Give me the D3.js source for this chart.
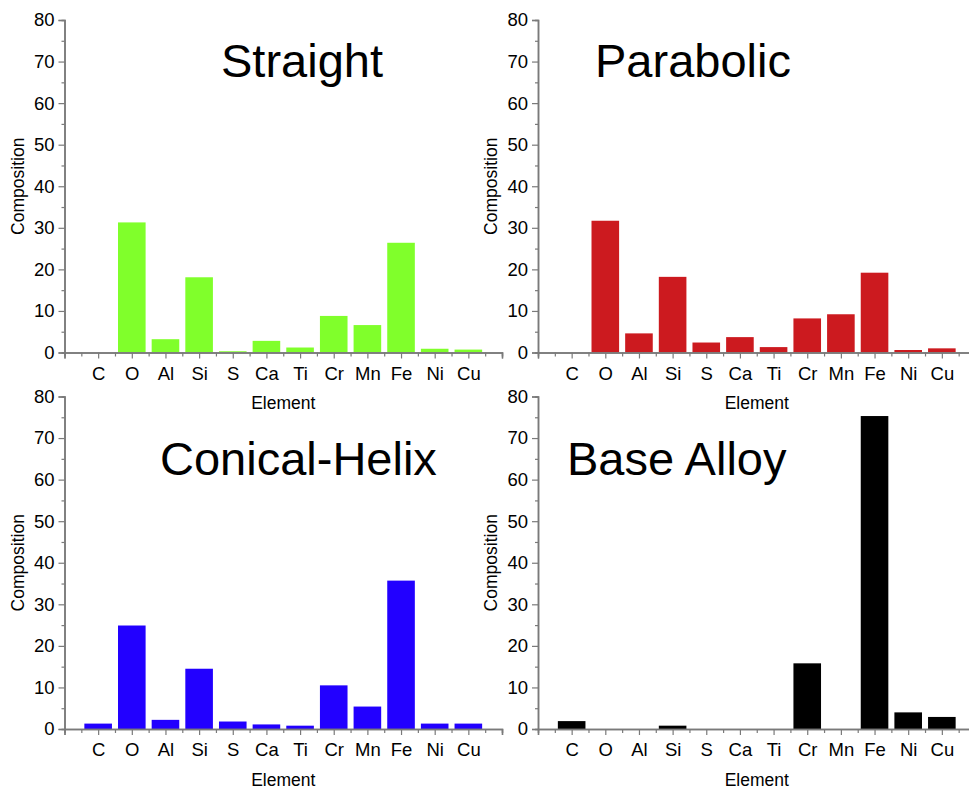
<!DOCTYPE html>
<html>
<head>
<meta charset="utf-8">
<script src="https://cdn.jsdelivr.net/npm/d3@7"></script>
<style>
  body { margin: 0; background: #fff; }
  svg text { font-family: "Liberation Sans", Arial, sans-serif; fill: #000; }
</style>
</head>
<body>
<svg id="chart" width="969" height="791"></svg>
<script>
// element categories along every x axis
const elements = ['C', 'O', 'Al', 'Si', 'S', 'Ca', 'Ti', 'Cr', 'Mn', 'Fe', 'Ni', 'Cu']
const yTicks = [0, 10, 20, 30, 40, 50, 60, 70, 80]

// composition values
const straight = [0, 31.3, 3.2, 18.1, 0.3, 2.8, 1.2, 8.8, 6.6, 26.4, 0.9, 0.7]
const parabolic = [0, 31.7, 4.6, 18.2, 2.4, 3.7, 1.3, 8.2, 9.2, 19.2, 0.6, 1.0]
const conicalHelix = [1.3, 24.9, 2.2, 14.5, 1.8, 1.1, 0.8, 10.5, 5.4, 35.7, 1.3, 1.3]
const baseAlloy = [1.9, 0, 0, 0.8, 0, 0, 0, 15.8, 0, 75.3, 4.0, 2.9]

const panels = [
  {title: 'Straight', values: straight, color: '#80ff2b', left: 64.5, bottom: 352.5, titleX: 221, titleY: 77},
  {title: 'Parabolic', values: parabolic, color: '#cc1a1f', left: 538, bottom: 352.5, titleX: 595, titleY: 77},
  {title: 'Conical-Helix', values: conicalHelix, color: '#2200ff', left: 64.5, bottom: 729, titleX: 160, titleY: 475},
  {title: 'Base Alloy', values: baseAlloy, color: '#000000', left: 538, bottom: 729, titleX: 567, titleY: 475}
]

const plotW = 437.5
const plotH = 332.5
const axisColor = '#7a7a7a'

const svg = d3.select('#chart')

panels.forEach(p => {
  const g = svg.append('g').attr('transform', 'translate(' + p.left + ',' + (p.bottom - plotH) + ')')

  const x = d3.scaleLinear().domain([0, elements.length + 1]).range([0, plotW])
  const y = d3.scaleLinear().domain([0, 80]).range([plotH, 0])
  const step = x(1) - x(0)
  const bw = step * 0.82

  // bars
  g.selectAll('rect.bar')
    .data(p.values)
    .join('rect')
    .attr('class', 'bar')
    .attr('x', (d, i) => x(i + 1) - bw / 2)
    .attr('width', bw)
    .attr('y', d => y(d))
    .attr('height', d => plotH - y(d))
    .attr('fill', p.color)

  // y axis: major every 10, minor every 5
  const yMinor = g.append('g')
    .call(d3.axisLeft(y).tickValues(d3.range(5, 80, 10)).tickSize(3).tickFormat(''))
  const yMajor = g.append('g')
    .call(d3.axisLeft(y).tickValues(yTicks).tickSize(6).tickPadding(4))
  yMajor.selectAll('text').style('font-size', '18.5px')

  // x axis: labelled ticks at each element, minor ticks in between
  const xMinor = g.append('g')
    .attr('transform', 'translate(0,' + plotH + ')')
    .call(d3.axisBottom(x).tickValues(d3.range(0.5, elements.length + 1, 1)).tickSize(4).tickFormat(''))
  const xMajor = g.append('g')
    .attr('transform', 'translate(0,' + plotH + ')')
    .call(d3.axisBottom(x).tickValues(d3.range(0, elements.length + 2))
      .tickSize(6).tickPadding(8)
      .tickFormat(d => (d >= 1 && d <= elements.length) ? elements[d - 1] : ''))
  xMajor.selectAll('text').style('font-size', '18.5px')

  ;[yMinor, yMajor, xMinor, xMajor].forEach(a => {
    a.select('.domain').attr('stroke', axisColor).attr('stroke-width', 1.5)
    a.selectAll('.tick line').attr('stroke', axisColor).attr('stroke-width', 1.2)
  })

  // axis titles
  g.append('text')
    .attr('x', plotW / 2)
    .attr('y', plotH + 56.5)
    .attr('text-anchor', 'middle')
    .style('font-size', '17.5px')
    .text('Element')

  g.append('text')
    .attr('transform', 'translate(-41,' + (plotH / 2) + ') rotate(-90)')
    .attr('text-anchor', 'middle')
    .style('font-size', '17.5px')
    .text('Composition')

  // panel title
  svg.append('text')
    .attr('x', p.titleX)
    .attr('y', p.titleY)
    .style('font-size', '47px')
    .text(p.title)
})
</script>
</body>
</html>
